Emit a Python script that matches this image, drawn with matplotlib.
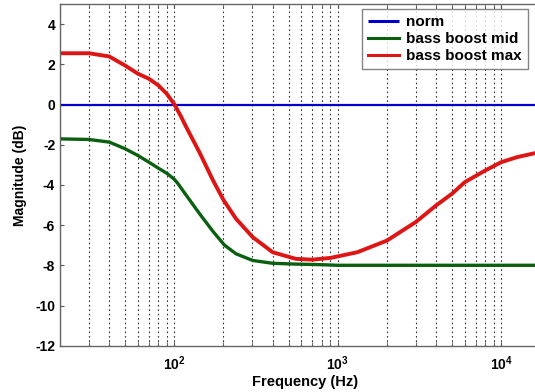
import matplotlib
matplotlib.use("Agg")
import matplotlib.pyplot as plt
from matplotlib.ticker import LogLocator, NullFormatter, FixedLocator

plt.rcParams['font.family'] = ['Liberation Sans', 'DejaVu Sans']
plt.rcParams['font.weight'] = 'bold'
plt.rcParams['axes.unicode_minus'] = False
plt.rcParams['mathtext.fontset'] = 'custom'
plt.rcParams['mathtext.bf'] = 'Liberation Sans:bold'
plt.rcParams['mathtext.rm'] = 'Liberation Sans:bold'
plt.rcParams['mathtext.default'] = 'rm'

norm_f = [20, 20000]
norm_db = [0, 0]

mid_f = [20, 30, 40, 50, 60, 70, 80, 90, 100, 105, 118, 143, 172, 203, 239, 302, 400,
         554, 800, 1000, 20000]
mid_db = [-1.71, -1.74, -1.87, -2.2, -2.54, -2.87, -3.17, -3.42, -3.72, -3.92, -4.5, -5.44,
          -6.3, -7.0, -7.43, -7.76, -7.9, -7.94, -7.97, -8.0, -8.0]

max_f = [20, 30, 40, 50, 60, 70, 80, 90, 100, 110, 118, 143, 172, 200, 239, 302, 400,
         554, 700, 906, 1318, 2000, 3000, 4000, 5000, 6000, 8000, 10000, 12500, 16100,
         20000]
max_db = [2.55, 2.55, 2.39, 1.94, 1.53, 1.28, 0.95, 0.53, 0.02, -0.6, -1.1, -2.4, -3.75,
          -4.75, -5.69, -6.6, -7.35, -7.68, -7.72, -7.63, -7.35, -6.77, -5.85, -5.02,
          -4.44, -3.86, -3.28, -2.87, -2.62, -2.42, -2.25]

labels = ['norm', 'bass boost mid', 'bass boost max']
xtick_vals = [100, 1000, 10000]
xtick_labels = [r'$10^2$', r'$10^3$', r'$10^4$']
ytick_vals = [-12, -10, -8, -6, -4, -2, 0, 2, 4]

W, H = 535, 392
fig = plt.figure(figsize=(W / 100, H / 100), dpi=100)
ax = fig.add_axes([60 / W, (H - 345.7) / H, (550.4 - 60) / W, (345.7 - 4) / H])

ax.semilogx(norm_f, norm_db, color='#0000cc', lw=1.6, label=labels[0], solid_capstyle='butt')
ax.semilogx(mid_f, mid_db, color='#0a6010', lw=2.4, label=labels[1],
            solid_joinstyle='round')
ax.semilogx(max_f, max_db, color='#dd1515', lw=2.8, label=labels[2],
            solid_joinstyle='round')

ax.set_xlim(20, 20000)
ax.set_ylim(-12, 5)
ax.set_yticks(ytick_vals)
ax.set_yticklabels([str(v) for v in ytick_vals])
ax.xaxis.set_major_locator(FixedLocator(xtick_vals))
ax.xaxis.set_minor_locator(LogLocator(base=10, subs=range(2, 10), numticks=20))
ax.xaxis.set_minor_formatter(NullFormatter())
ax.set_xticklabels(xtick_labels)

ax.grid(True, which='both', axis='x', color='#333333', linestyle=(0, (1.5, 2.5)), lw=0.8)
ax.tick_params(axis='both', which='both', direction='in', labelsize=10, length=3,
               color='#555555', top=True, right=True)
ax.tick_params(axis='x', which='major', pad=6)
for lab in ax.get_xticklabels() + ax.get_yticklabels():
    lab.set_fontweight('bold')
for s in ax.spines.values():
    s.set_color('#666666')
    s.set_linewidth(1.0)

ax.set_xlabel('Frequency (Hz)', fontsize=10.5, fontweight='bold', labelpad=2)
ax.set_ylabel('Magnitude (dB)', fontsize=10, fontweight='bold', labelpad=6)

leg = ax.legend(loc='upper left', bbox_to_anchor=(362 / W, 1 - 9 / H),
                bbox_transform=fig.transFigure, borderaxespad=0,
                fontsize=11, frameon=True, fancybox=False,
                edgecolor='#666666', handlelength=2.0, handletextpad=0.5,
                borderpad=0.4, labelspacing=0.2)
for t in leg.get_texts():
    t.set_fontweight('bold')
for ln in leg.get_lines():
    ln.set_linewidth(2.2)
leg.get_frame().set_linewidth(1.0)

fig.savefig('out.png', dpi=100)
